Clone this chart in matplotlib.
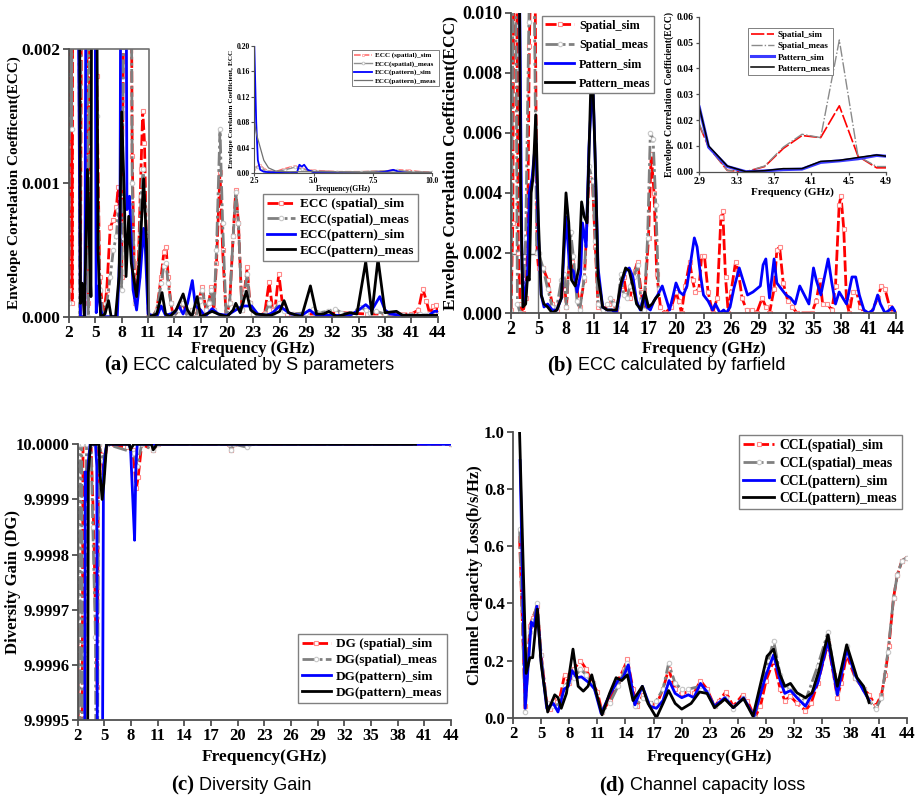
import numpy as np
import matplotlib
matplotlib.use('Agg')
import matplotlib.pyplot as plt
from matplotlib.patches import Rectangle
from matplotlib.ticker import FormatStrFormatter

W, H = 919, 799

# ---------------- data: (frequency in GHz, value) ----------------
# (a) ECC from S parameters
a_spatial_sim = [(2.0, 0.0002), (2.2, 0.005), (2.35, 0.0001), (2.5, 0.005), (3.0, 0.005), (3.3, 0.0),
                 (3.5, 0.004), (3.8, 0.005), (4.2, 0.0001), (4.5, 0.005), (4.8, 0.005), (5.15, 0.0018),
                 (5.5, 0.0003), (5.9, 0.0), (6.3, 0.0002), (6.7, 0.00067), (7.05, 0.00072), (7.4, 0.00082),
                 (7.6, 0.00097), (7.8, 0.0007), (8.0, 0.0003), (8.3, 0.003), (8.6, 0.005), (9.0, 0.004),
                 (9.2, 0.0012), (9.5, 0.0001), (9.9, 0.0004), (10.2, 0.0011), (10.4, 0.00154), (10.6, 0.0013),
                 (10.8, 0.0006), (11.05, 0.0), (11.5, 0.0), (12.0, 0.00005), (12.5, 0.0003), (12.8, 0.00048),
                 (13.05, 0.00052), (13.3, 0.0003), (13.6, 0.0001), (13.9, 0.0), (14.5, 0.00005), (15.0, 0.0001),
                 (15.5, 0.0), (16.0, 0.00005), (16.5, 0.0), (16.9, 0.00015), (17.2, 0.00022), (17.6, 0.00005),
                 (17.9, 0.0001), (18.2, 0.00022), (18.5, 0.00005), (18.8, 0.0004), (19.2, 0.00108), (19.5, 0.0005),
                 (19.9, 0.0), (20.3, 0.0001), (20.7, 0.0006), (21.0, 0.00095), (21.3, 0.0007), (21.7, 0.00005),
                 (22.0, 0.0002), (22.3, 0.00037), (22.6, 0.0001), (23.0, 0.00002), (23.5, 0.0), (24.3, 0.00003),
                 (24.8, 0.00026), (25.2, 0.00005), (25.5, 0.00008), (25.9, 0.00032), (26.3, 0.0001), (26.8, 0.00002),
                 (27.5, 0.00002), (30.0, 0.00002), (33.0, 0.00003), (36.0, 0.00002), (39.0, 0.00002), (41.0, 0.00002),
                 (41.8, 0.00005), (42.3, 0.00021), (42.7, 0.00012), (43.1, 0.00002), (43.5, 0.00008), (43.8, 0.00009),
                 (44.0, 0.00003)]
a_spatial_meas = [(2.0, 0.0001), (2.2, 0.005), (2.3, 0.0014), (2.5, 0.005), (3.0, 0.005), (3.25, 0.0),
                  (3.5, 0.005), (3.8, 0.005), (4.2, 0.0), (4.5, 0.005), (4.8, 0.005), (5.15, 0.0015),
                  (5.5, 0.0002), (5.9, 0.0), (6.3, 0.0001), (6.7, 0.0003), (7.05, 0.0005), (7.4, 0.0006),
                  (7.6, 0.0008), (7.8, 0.0006), (8.0, 0.0002), (8.3, 0.003), (8.6, 0.005), (9.0, 0.004),
                  (9.2, 0.001), (9.5, 0.0001), (9.9, 0.0003), (10.2, 0.0009), (10.45, 0.0011), (10.7, 0.0008),
                  (11.05, 0.0), (11.5, 0.0), (12.0, 0.00005), (12.5, 0.00025), (12.8, 0.00038), (13.05, 0.0004),
                  (13.3, 0.00025), (13.6, 0.0001), (13.9, 0.0), (14.5, 0.00005), (15.0, 0.0001), (15.5, 0.0),
                  (16.0, 0.00005), (16.5, 0.0), (16.9, 0.00012), (17.2, 0.0002), (17.6, 0.00005), (17.9, 0.0001),
                  (18.2, 0.0002), (18.5, 0.00005), (18.8, 0.0005), (19.2, 0.0014), (19.5, 0.0007), (19.9, 0.0),
                  (20.3, 0.0001), (20.7, 0.0006), (21.0, 0.00093), (21.3, 0.0007), (21.7, 0.00005), (22.0, 0.00018),
                  (22.3, 0.00032), (22.6, 0.0001), (23.0, 0.00002), (23.5, 0.0), (24.3, 0.00002), (24.8, 0.0001),
                  (25.2, 0.00003), (25.9, 0.0001), (26.5, 0.00004), (27.5, 0.00002), (29.0, 0.00003), (29.8, 0.00006),
                  (30.5, 0.00003), (31.5, 0.00004), (32.3, 0.00006), (33.0, 0.00003), (34.0, 0.00002), (35.2, 0.00007),
                  (35.8, 0.00005), (36.3, 0.00003), (37.0, 0.00004), (38.0, 0.00002), (40.0, 0.00001), (42.0, 0.00002),
                  (42.5, 0.00001), (43.0, 0.00002), (43.5, 0.00001), (44.0, 0.00001)]
a_pattern_sim = [(2.0, 0.005), (3.0, 0.003), (3.3, 0.0), (3.6, 0.0), (3.8, 0.0), (4.05, 0.005), (4.85, 0.005),
                 (5.1, 0.00003), (5.35, 0.00023), (5.6, 0.00005), (5.9, 0.0), (7.5, 0.0), (7.8, 0.0005), (8.0, 0.005),
                 (8.4, 0.005), (8.6, 0.0008), (8.9, 0.0009), (9.3, 0.0002), (9.7, 0.00005), (10.1, 0.0003),
                 (10.5, 0.00066), (10.7, 0.0005), (11.0, 0.00002), (12.0, 0.0), (12.5, 0.00008), (13.0, 0.00001),
                 (14.0, 0.00003), (14.5, 0.00008), (15.0, 0.00002), (15.5, 0.0001), (16.05, 0.00027), (16.4, 0.00008),
                 (17.0, 0.00005), (17.5, 0.0), (18.3, 0.00006), (19.0, 0.00002), (20.0, 0.00001), (21.0, 0.00005),
                 (21.8, 0.00008), (22.8, 0.00008), (23.5, 0.00002), (24.5, 0.00001), (25.2, 0.00003), (26.0, 0.00008),
                 (26.6, 0.00005), (27.3, 0.00002), (28.5, 0.00001), (29.4, 0.00005), (30.2, 0.00001), (32.0, 0.00001),
                 (34.0, 0.00001), (35.0, 0.00005), (35.8, 0.00009), (36.5, 0.00005), (37.4, 0.00015), (38.0, 0.00005),
                 (38.6, 0.00002), (40.0, 0.00001), (41.5, 0.00001), (43.0, 0.00001), (43.6, 0.00004), (44.0, 0.00004)]
a_pattern_meas = [(2.0, 0.005), (2.9, 0.005), (3.1, 0.005), (3.3, 0.0001), (3.5, 0.00025), (3.75, 0.0),
                  (4.1, 0.0011), (4.3, 0.0006), (4.5, 0.00015), (4.65, 0.005), (5.0, 0.005), (5.3, 0.0005),
                  (5.6, 0.0), (6.1, 0.00002), (6.5, 0.00012), (6.8, 0.0), (7.3, 0.0), (7.7, 0.0003), (8.0, 0.00153),
                  (8.3, 0.0009), (8.5, 0.0003), (8.8, 0.00075), (9.1, 0.0004), (9.7, 0.00015), (10.1, 0.0005),
                  (10.5, 0.00103), (10.8, 0.0006), (11.1, 0.0), (12.0, 0.00002), (12.6, 0.00018), (13.0, 0.00002),
                  (13.5, 0.0), (14.2, 0.00005), (15.0, 0.00017), (15.5, 0.00005), (16.0, 0.0), (16.6, 0.00015),
                  (17.0, 0.0), (18.3, 0.00004), (19.0, 0.00002), (20.0, 0.0), (20.7, 0.00005), (21.0, 0.0001),
                  (21.5, 0.00003), (22.2, 0.00019), (22.7, 0.00005), (23.3, 0.00002), (25.0, 0.00001), (26.0, 0.00004),
                  (26.5, 0.00012), (27.0, 0.00003), (28.5, 0.0), (29.5, 0.00023), (30.2, 0.00002), (31.0, 0.00002),
                  (31.6, 0.00004), (32.5, 0.0), (34.0, 0.00003), (34.8, 0.00002), (35.8, 0.00041), (36.5, 0.00002),
                  (37.2, 0.00043), (38.0, 0.00003), (39.3, 0.00004), (40.0, 0.00001), (44.0, 0.00001)]

# (a) inset, 2.5-10 GHz
ia_spatial_sim = [(2.5, 0.006), (2.6, 0.01), (2.75, 0.012), (2.9, 0.007), (3.1, 0.003), (3.4, 0.002), (3.7, 0.006),
                  (4.0, 0.009), (4.2, 0.011), (4.4, 0.009), (4.7, 0.005), (5.0, 0.004), (5.5, 0.003), (6.0, 0.002),
                  (7.0, 0.002), (8.0, 0.003), (8.5, 0.005), (9.0, 0.004), (9.5, 0.002), (10.0, 0.001)]
ia_spatial_meas = [(2.5, 0.008), (2.65, 0.01), (2.8, 0.008), (3.0, 0.003), (3.4, 0.002), (3.8, 0.005), (4.2, 0.009),
                   (4.5, 0.006), (5.0, 0.003), (6.0, 0.002), (7.0, 0.002), (8.5, 0.004), (9.2, 0.002), (10.0, 0.001)]
ia_pattern_sim = [(2.5, 0.2), (2.58, 0.08), (2.65, 0.02), (2.75, 0.005), (2.9, 0.002), (3.2, 0.001), (3.5, 0.001),
                  (4.0, 0.0), (4.3, 0.001), (4.4, 0.013), (4.5, 0.01), (4.6, 0.013), (4.75, 0.005), (5.0, 0.001),
                  (6.0, 0.0), (7.5, 0.0), (8.0, 0.002), (8.35, 0.005), (8.6, 0.002), (9.0, 0.0), (10.0, 0.0)]
ia_pattern_meas = [(2.5, 0.08), (2.6, 0.06), (2.75, 0.04), (2.9, 0.02), (3.1, 0.008), (3.4, 0.003), (3.8, 0.002),
                   (4.5, 0.002), (5.0, 0.002), (7.0, 0.001), (10.0, 0.001)]

# (b) ECC from far field
b_spatial_sim = [(2.0, 0.0001), (2.2, 0.003), (2.3, 0.012), (2.6, 0.012), (2.8, 0.002), (3.0, 0.0003), (3.3, 0.0),
                 (3.6, 0.0005), (3.8, 0.0021), (4.0, 0.0089), (4.2, 0.012), (4.6, 0.012), (4.85, 0.002), (5.0, 0.0015),
                 (5.5, 0.0015), (6.0, 0.0011), (6.5, 0.0003), (7.0, 0.0001), (7.5, 0.0006), (7.8, 0.0011),
                 (8.05, 0.0002), (8.3, 0.0015), (8.7, 0.0017), (9.0, 0.0012), (9.5, 0.0002), (10.0, 0.0011),
                 (10.5, 0.0045), (10.9, 0.0043), (11.2, 0.0022), (11.5, 0.0002), (12.0, 0.0001), (12.7, 0.0003),
                 (13.0, 0.0004), (13.5, 0.0001), (14.0, 0.0009), (14.3, 0.0012), (14.6, 0.0006), (15.0, 0.0005),
                 (15.5, 0.0014), (15.8, 0.0017), (16.2, 0.0007), (16.5, 0.0001), (17.0, 0.0025), (17.3, 0.0053),
                 (17.6, 0.004), (17.9, 0.0013), (18.3, 0.0002), (18.8, 0.0), (19.5, 0.0002), (20.0, 0.0007),
                 (20.3, 0.0004), (20.6, 0.0), (21.0, 0.0009), (21.5, 0.0017), (21.8, 0.0011), (22.1, 0.0007),
                 (22.5, 0.0008), (22.8, 0.0019), (23.1, 0.0019), (23.5, 0.0007), (24.0, 0.0), (24.5, 0.0005),
                 (24.9, 0.0032), (25.1, 0.0034), (25.4, 0.0012), (25.7, 0.0), (26.0, 0.0007), (26.5, 0.0017),
                 (26.8, 0.0014), (27.2, 0.0005), (27.7, 0.0001), (28.3, 0.0001), (28.8, 0.0), (29.4, 0.0005),
                 (29.8, 0.0002), (30.2, 0.0), (30.7, 0.0008), (31.0, 0.0021), (31.3, 0.0022), (31.7, 0.001),
                 (32.2, 0.0004), (32.7, 0.0002), (33.2, 0.0), (34.8, 0.0), (35.3, 0.0004), (35.7, 0.0011),
                 (36.0, 0.0003), (36.5, 0.0003), (37.0, 0.0001), (37.4, 0.0009), (37.8, 0.0036), (38.0, 0.0039),
                 (38.3, 0.0028), (38.6, 0.0004), (38.9, 0.0), (39.3, 0.0007), (39.7, 0.0007), (40.1, 0.0002),
                 (40.6, 0.0), (41.3, 0.0), (42.0, 0.0005), (42.4, 0.0009), (42.8, 0.0008), (43.3, 0.0002),
                 (43.7, 0.0), (44.0, 0.0)]
b_spatial_meas = [(2.0, 0.0), (2.25, 0.012), (2.5, 0.012), (2.7, 0.0003), (3.0, 0.0), (3.3, 0.0003), (3.6, 0.0025),
                  (3.95, 0.0097), (4.1, 0.012), (4.5, 0.012), (4.8, 0.002), (5.0, 0.002), (5.5, 0.0015), (6.0, 0.0008),
                  (6.5, 0.0002), (7.0, 0.0002), (7.5, 0.0011), (7.8, 0.0013), (8.05, 0.0002), (8.5, 0.0027),
                  (8.8, 0.0019), (9.2, 0.0004), (9.5, 0.0001), (10.0, 0.0012), (10.5, 0.0049), (10.9, 0.0044),
                  (11.2, 0.0024), (11.5, 0.0003), (12.0, 0.0001), (12.5, 0.0003), (12.8, 0.0005), (13.2, 0.0003),
                  (13.6, 0.0002), (14.0, 0.0013), (14.3, 0.0006), (14.6, 0.0005), (15.0, 0.0009), (15.4, 0.0012),
                  (15.8, 0.0016), (16.2, 0.0004), (16.5, 0.0001), (16.9, 0.0025), (17.2, 0.006), (17.5, 0.0058),
                  (17.8, 0.0036), (18.1, 0.0008)]
b_pattern_sim = [(2.9, 0.012), (3.2, 0.0015), (3.5, 0.0003), (3.8, 0.0013), (4.0, 0.004), (4.3, 0.0045),
                 (4.7, 0.0058), (5.0, 0.0025), (5.3, 0.0006), (5.6, 0.0002), (6.0, 0.0003), (6.5, 0.0001),
                 (7.0, 0.0001), (7.5, 0.0005), (8.0, 0.0032), (8.4, 0.0015), (8.8, 0.0014), (9.2, 0.0007),
                 (9.6, 0.0013), (9.8, 0.003), (10.2, 0.0022), (10.5, 0.0055), (10.9, 0.0078), (11.1, 0.006),
                 (11.5, 0.0015), (12.0, 0.0002), (12.5, 0.0001), (13.0, 0.0001), (13.5, 0.0), (14.0, 0.0009),
                 (14.5, 0.0014), (14.9, 0.0015), (15.3, 0.0012), (15.7, 0.0004), (16.1, 0.0001), (16.5, 0.0006),
                 (16.8, 0.0002), (17.2, 0.0001), (17.6, 0.0004), (18.0, 0.0006), (18.5, 0.0009), (19.0, 0.0004),
                 (19.3, 0.0001), (19.7, 0.0006), (20.0, 0.001), (20.4, 0.0007), (20.8, 0.0006), (21.2, 0.0009),
                 (21.6, 0.0017), (22.0, 0.0025), (22.3, 0.0022), (22.7, 0.0012), (23.0, 0.0006), (23.5, 0.0004),
                 (24.0, 0.0001), (24.3, 0.0003), (24.8, 0.0), (25.2, 0.0001), (25.5, 0.0), (25.9, 0.0002),
                 (26.3, 0.0008), (26.9, 0.0015), (27.3, 0.0011), (27.8, 0.0006), (28.4, 0.0007), (28.8, 0.0008),
                 (29.2, 0.0009), (29.5, 0.0016), (29.8, 0.0018), (30.2, 0.0005), (30.7, 0.0018), (31.0, 0.001),
                 (31.5, 0.0008), (32.0, 0.0006), (32.5, 0.0005), (33.0, 0.0003), (33.5, 0.0009), (34.0, 0.0006),
                 (34.5, 0.0003), (35.0, 0.0015), (35.3, 0.0011), (35.8, 0.0006), (36.2, 0.0012), (36.6, 0.0018),
                 (37.0, 0.001), (37.4, 0.0003), (37.8, 0.0007), (38.2, 0.0005), (38.6, 0.0003), (39.2, 0.0012),
                 (39.6, 0.0012), (40.0, 0.0006), (40.5, 0.0001), (41.0, 0.0), (41.5, 0.0001), (42.0, 0.0006),
                 (42.3, 0.0003), (42.8, 0.0), (43.3, 0.0001), (43.6, 0.0002), (44.0, 0.0)]
b_pattern_meas = [(2.9, 0.012), (3.05, 0.004), (3.3, 0.0002), (3.6, 0.0003), (3.8, 0.0012), (4.0, 0.0011),
                  (4.2, 0.004), (4.4, 0.0045), (4.7, 0.0066), (5.0, 0.003), (5.3, 0.0006), (5.6, 0.0003),
                  (6.0, 0.0002), (6.5, 0.0), (7.0, 0.0001), (7.5, 0.0005), (8.0, 0.004), (8.3, 0.003), (8.6, 0.0011),
                  (9.0, 0.0009), (9.4, 0.0015), (9.7, 0.0037), (10.0, 0.0032), (10.3, 0.003), (10.7, 0.0075),
                  (10.9, 0.008), (11.2, 0.005), (11.5, 0.0012), (12.0, 0.0002), (12.5, 0.0001), (13.0, 0.0001),
                  (13.5, 0.0001), (14.0, 0.001), (14.5, 0.0015), (14.9, 0.0014), (15.3, 0.0009), (15.7, 0.0003),
                  (16.2, 0.0001), (16.6, 0.0007), (17.0, 0.0002), (17.4, 0.0003), (17.8, 0.0005), (18.1, 0.0006)]

# (b) inset, 2.9-4.9 GHz
ib_freq = [2.9, 3.0, 3.2, 3.4, 3.6, 3.8, 4.0, 4.2, 4.4, 4.6, 4.8, 4.9]
ib_spatial_sim = [0.018, 0.0095, 0.0005, 0.0, 0.002, 0.009, 0.014, 0.0132, 0.0255, 0.006, 0.0015, 0.0015]
ib_spatial_meas = [0.0185, 0.0095, 0.0005, 0.0, 0.0022, 0.0095, 0.0145, 0.0132, 0.051, 0.006, 0.002, 0.002]
ib_pattern_sim = [0.025, 0.0095, 0.002, 0.0, 0.0003, 0.0008, 0.001, 0.0036, 0.0042, 0.005, 0.0063, 0.006]
ib_pattern_meas = [0.025, 0.01, 0.0022, 0.0, 0.0004, 0.0012, 0.0012, 0.004, 0.0044, 0.0055, 0.0065, 0.006]

# (c) diversity gain
c_spatial_sim = [(2.0, 9.9997), (2.2, 9.999), (2.4, 9.999), (2.6, 10.0), (3.5, 10.0), (3.8, 9.99985),
                 (4.05, 9.99965), (4.2, 9.99956), (4.35, 10.0), (4.7, 9.99998), (4.9, 9.99995), (5.3, 10.0),
                 (7.5, 9.999995), (8.2, 9.99999), (8.6, 9.99992), (8.8, 9.99994), (9.2, 10.0), (10.5, 9.99999),
                 (11.0, 10.0), (19.0, 10.0), (19.3, 9.99999), (19.6, 10.0), (44.0, 10.0)]
c_spatial_meas = [(2.0, 10.0), (2.15, 9.999), (2.3, 10.0), (2.45, 10.0), (2.6, 9.999), (2.8, 9.99962), (3.0, 10.0),
                  (3.5, 10.0), (3.7, 9.99985), (4.0, 9.99965), (4.15, 9.999), (4.35, 10.0), (4.9, 9.99997),
                  (5.3, 10.0), (8.3, 9.999985), (8.7, 9.99996), (9.2, 10.0), (10.5, 9.99999), (11.0, 10.0),
                  (19.0, 10.0), (19.3, 9.99999), (19.6, 10.0), (21.0, 9.999995), (21.3, 10.0), (44.0, 10.0)]
c_pattern_sim = [(2.0, 9.999), (2.75, 9.999), (2.85, 9.99995), (3.0, 9.9999), (3.2, 9.99997), (3.4, 10.0),
                 (4.0, 10.0), (4.15, 9.99996), (4.25, 9.999), (4.7, 9.999), (4.9, 9.99996), (5.25, 10.0),
                 (7.8, 10.0), (7.95, 9.99999), (8.2, 9.9999), (8.4, 9.999826), (8.55, 9.99996), (8.7, 10.0),
                 (44.0, 10.0)]
c_pattern_meas = [(2.0, 9.999), (3.05, 9.999), (3.2, 9.99995), (3.45, 10.0), (4.4, 10.0), (4.5, 9.99995),
                  (4.75, 9.9999), (4.95, 9.99993), (5.25, 10.0), (7.8, 10.0), (7.95, 9.99999), (8.1, 9.999995),
                  (8.3, 10.0), (10.3, 10.0), (10.5, 9.99999), (10.9, 10.0), (40.0, 10.0)]

# (d) channel capacity loss
d_spatial_sim = [(2.7, 0.63), (3.3, 0.04), (3.8, 0.32), (4.1, 0.35), (4.6, 0.39), (5.0, 0.22), (5.6, 0.05),
                 (5.9, 0.03), (6.3, 0.06), (7.0, 0.07), (7.5, 0.15), (8.0, 0.12), (8.5, 0.17), (9.2, 0.2),
                 (9.8, 0.17), (10.5, 0.12), (11.0, 0.09), (11.5, 0.02), (12.3, 0.06), (13.2, 0.13), (13.8, 0.17),
                 (14.2, 0.205), (14.8, 0.1), (15.2, 0.04), (15.9, 0.08), (16.6, 0.05), (17.3, 0.045), (18.0, 0.1),
                 (18.6, 0.17), (19.3, 0.1), (20.0, 0.085), (20.7, 0.09), (21.3, 0.085), (22.0, 0.13), (22.7, 0.1),
                 (23.5, 0.04), (24.0, 0.06), (24.7, 0.09), (25.5, 0.04), (26.5, 0.08), (27.0, 0.06), (27.8, 0.0),
                 (28.4, 0.04), (29.0, 0.13), (29.8, 0.2), (30.5, 0.1), (31.0, 0.06), (31.6, 0.075), (32.3, 0.05),
                 (33.2, 0.025), (33.8, 0.05), (34.5, 0.12), (35.6, 0.26), (36.2, 0.15), (36.6, 0.07), (37.0, 0.12),
                 (37.6, 0.22), (38.5, 0.14), (39.4, 0.1), (40.0, 0.08), (40.7, 0.04), (41.3, 0.08), (41.7, 0.15),
                 (42.1, 0.25), (42.6, 0.42), (43.0, 0.5), (43.5, 0.55), (44.0, 0.56)]
d_spatial_meas = [(2.7, 0.66), (3.3, 0.02), (3.8, 0.3), (4.1, 0.34), (4.6, 0.4), (5.0, 0.22), (5.6, 0.05),
                  (6.3, 0.04), (7.0, 0.05), (7.5, 0.11), (8.0, 0.13), (8.5, 0.14), (9.2, 0.17), (9.8, 0.15),
                  (10.5, 0.12), (11.5, 0.02), (12.3, 0.05), (13.2, 0.11), (14.2, 0.19), (15.0, 0.04), (15.9, 0.07),
                  (16.6, 0.05), (17.3, 0.06), (18.0, 0.1), (18.6, 0.19), (19.3, 0.12), (20.0, 0.1), (20.7, 0.1),
                  (22.0, 0.11), (22.7, 0.09), (23.5, 0.04), (24.7, 0.07), (25.5, 0.03), (26.5, 0.07), (27.8, 0.0),
                  (29.0, 0.17), (29.8, 0.27), (30.5, 0.15), (31.0, 0.1), (31.6, 0.11), (32.3, 0.08), (33.2, 0.06),
                  (34.5, 0.18), (35.6, 0.3), (36.6, 0.09), (37.6, 0.25), (38.5, 0.14), (39.4, 0.1), (40.0, 0.06),
                  (40.7, 0.03), (41.3, 0.07), (42.0, 0.23), (42.6, 0.42), (43.0, 0.5), (43.5, 0.55), (44.0, 0.56)]
d_pattern_sim = [(2.75, 0.9), (3.3, 0.033), (3.95, 0.335), (4.25, 0.32), (4.55, 0.39), (5.0, 0.2), (5.6, 0.033),
                 (6.3, 0.05), (6.8, 0.02), (7.45, 0.1), (7.9, 0.11), (8.3, 0.165), (8.8, 0.14), (9.3, 0.143),
                 (10.2, 0.12), (10.7, 0.1), (11.4, 0.015), (12.3, 0.08), (13.2, 0.13), (13.75, 0.14), (14.3, 0.185),
                 (15.0, 0.045), (15.8, 0.11), (16.6, 0.04), (17.3, 0.033), (18.0, 0.06), (18.65, 0.13), (19.3, 0.085),
                 (20.0, 0.07), (20.7, 0.08), (21.3, 0.07), (22.0, 0.12), (22.7, 0.09), (23.5, 0.04), (24.6, 0.07),
                 (25.5, 0.035), (26.6, 0.07), (27.7, 0.005), (29.0, 0.15), (29.8, 0.22), (30.5, 0.13), (31.0, 0.085),
                 (31.6, 0.095), (32.3, 0.07), (33.2, 0.04), (34.5, 0.12), (35.6, 0.27), (36.6, 0.08), (37.6, 0.24),
                 (38.5, 0.15), (39.3, 0.1), (40.0, 0.06)]
d_pattern_meas = [(2.7, 1.0), (3.4, 0.155), (3.8, 0.21), (4.1, 0.21), (4.6, 0.38), (5.0, 0.19), (5.7, 0.02),
                  (6.45, 0.08), (6.8, 0.07), (7.15, 0.033), (7.7, 0.085), (8.4, 0.24), (8.95, 0.11), (9.5, 0.093),
                  (10.0, 0.11), (10.4, 0.15), (10.9, 0.085), (11.5, 0.01), (12.3, 0.085), (13.0, 0.14), (13.6, 0.13),
                  (14.2, 0.15), (14.8, 0.06), (15.8, 0.11), (16.4, 0.05), (17.3, 0.0), (18.0, 0.05), (18.6, 0.095),
                  (19.3, 0.05), (20.0, 0.03), (21.0, 0.05), (21.9, 0.09), (22.7, 0.085), (23.5, 0.035), (24.6, 0.065),
                  (25.5, 0.035), (26.6, 0.067), (27.6, 0.005), (29.1, 0.215), (29.8, 0.24), (30.5, 0.15), (31.0, 0.11),
                  (31.6, 0.12), (32.3, 0.087), (33.2, 0.07), (33.9, 0.087), (34.6, 0.16), (35.6, 0.29), (36.6, 0.11),
                  (37.6, 0.255), (38.7, 0.14), (39.4, 0.11), (40.0, 0.053)]

a_labels = ['ECC (spatial)_sim', 'ECC(spatial)_meas', 'ECC(pattern)_sim', 'ECC(pattern)_meas']
b_labels = ['Spatial_sim', 'Spatial_meas', 'Pattern_sim', 'Pattern_meas']
c_labels = ['DG (spatial)_sim', 'DG(spatial)_meas', 'DG(pattern)_sim', 'DG(pattern)_meas']
d_labels = ['CCL(spatial)_sim', 'CCL(spatial)_meas', 'CCL(pattern)_sim', 'CCL(pattern)_meas']
freq_ticks = list(range(2, 45, 3))

# zoom boxes drawn in (a) and (b): (x0, x1, y_top)
a_box = (2, 11.15, 0.002)
b_box = (2, 4.9, 0.00196)

# ---------------- style ----------------
plt.rcParams['font.family'] = ['Liberation Serif', 'DejaVu Serif']
plt.rcParams['font.weight'] = 'bold'
plt.rcParams['axes.labelweight'] = 'bold'

RED, GRAY, BLUE, BLACK = '#ff0000', '#808080', '#0000ff', '#000000'
AXC = '#505050'

fig = plt.figure(figsize=(W / 100, H / 100), dpi=100)


def px_axes(l, t, r, b):
    return fig.add_axes([l / W, 1 - b / H, (r - l) / W, (b - t) / H])


def xy(pairs):
    a = np.array(pairs, dtype=float)
    return a[:, 0], a[:, 1]


def style(ax, fs, lw=1.3):
    for s in ['top', 'right']:
        ax.spines[s].set_visible(False)
    for s in ['left', 'bottom']:
        ax.spines[s].set_color(AXC)
        ax.spines[s].set_linewidth(lw)
    ax.tick_params(direction='out', length=4, width=lw, color=AXC, labelsize=fs, pad=2)


def four_lines(ax, data, labels, lw=2.0, ms=3.2):
    x, y = data[0]
    ax.plot(x, y, color=RED, lw=lw, ls=(0, (4, 1.2)), marker='s', ms=ms, mfc='white', mec='#ff8a8a',
            mew=0.8, label=labels[0])
    x, y = data[1]
    ax.plot(x, y, color=GRAY, lw=lw, ls=(0, (5, 1.2, 1, 1.2)), marker='o', ms=ms, mfc='white', mec='#c8c8c8',
            mew=0.8, label=labels[1])
    x, y = data[2]
    ax.plot(x, y, color=BLUE, lw=lw, label=labels[2])
    x, y = data[3]
    ax.plot(x, y, color=BLACK, lw=lw, label=labels[3])


def legend(ax, x, y, fs, hl=2.2, ls=0.3):
    lg = ax.legend(loc='upper left', bbox_to_anchor=(x, y), borderaxespad=0, fontsize=fs, handlelength=hl,
                   fancybox=False, framealpha=1, edgecolor='#808080', borderpad=0.3, labelspacing=ls,
                   handletextpad=0.4)
    lg.get_frame().set_linewidth(1.0)
    return lg


# ---------------- (a) ----------------
axa = px_axes(69, 49, 437.7, 316.7)
four_lines(axa, [xy(a_spatial_sim), xy(a_spatial_meas), xy(a_pattern_sim), xy(a_pattern_meas)], a_labels)
axa.set_xlim(2, 44)
axa.set_ylim(0, 0.002)
axa.set_xticks(freq_ticks)
axa.set_yticks([0, 0.001, 0.002])
axa.yaxis.set_major_formatter(FormatStrFormatter('%.3f'))
style(axa, 12.5)
axa.plot([a_box[0], a_box[1], a_box[1]], [a_box[2], a_box[2], 0], color='#707070', lw=1.2, clip_on=False)
axa.set_ylabel('Envelope Correlation Coefficent(ECC)', fontsize=11)
axa.yaxis.set_label_coords(-0.13, 0.5)
axa.set_xlabel('Frequency (GHz)', fontsize=12)
axa.xaxis.set_label_coords(0.5, -0.091)
legend(axa, 0.526, 0.458, 9.5, hl=2.1, ls=0.25)

# inset of (a)
ia = px_axes(254.3, 45.7, 432.3, 173)
x, y = xy(ia_spatial_sim)
ia.plot(x, y, color='#ff7070', lw=1.2, ls=(0, (4, 1.2)), marker='s', ms=2, mfc='white', mec='#ffaaaa',
        mew=0.6, label=a_labels[0])
x, y = xy(ia_spatial_meas)
ia.plot(x, y, color='#909090', lw=1.0, marker='o', ms=2, mfc='white', mec='#c0c0c0', mew=0.6, label=a_labels[1])
x, y = xy(ia_pattern_sim)
ia.plot(x, y, color=BLUE, lw=1.3, label=a_labels[2])
x, y = xy(ia_pattern_meas)
ia.plot(x, y, color='#707070', lw=0.9, label=a_labels[3])
ia.set_xlim(2.5, 10)
ia.set_ylim(0, 0.2)
ia.set_xticks([2.5, 5.0, 7.5, 10.0])
ia.set_yticks([0, 0.04, 0.08, 0.12, 0.16, 0.20])
ia.xaxis.set_major_formatter(FormatStrFormatter('%.1f'))
ia.yaxis.set_major_formatter(FormatStrFormatter('%.2f'))
style(ia, 5.5, lw=0.8)
ia.tick_params(length=2, pad=1)
ia.set_ylabel('Envelope Corelation Coefficient, ECC', fontsize=5.2, labelpad=2)
ia.set_xlabel('Frequency(GHz)', fontsize=5.5, labelpad=0)
legend(ia, 0.547, 0.966, 5.1, hl=2.6).get_frame().set_linewidth(0.7)

# ---------------- (b) ----------------
axb = px_axes(511, 12.7, 896, 313)
axb.add_patch(Rectangle((b_box[0], 0), b_box[1] - b_box[0], b_box[2], fill=False, edgecolor='#707070', lw=1.0))
four_lines(axb, [xy(b_spatial_sim), xy(b_spatial_meas), xy(b_pattern_sim), xy(b_pattern_meas)], b_labels)
axb.set_xlim(2, 44)
axb.set_ylim(0, 0.010)
axb.set_xticks(freq_ticks)
axb.set_yticks(np.arange(0, 0.0101, 0.002))
axb.yaxis.set_major_formatter(FormatStrFormatter('%.3f'))
style(axb, 13)
axb.set_ylabel('Envelope Correlation Coefficient(ECC)', fontsize=12.5)
axb.yaxis.set_label_coords(-0.135, 0.5)
axb.set_xlabel('Frequency (GHz)', fontsize=12)
axb.xaxis.set_label_coords(0.5, -0.093)
legend(axb, 0.08, 0.989, 8.7, hl=2.4, ls=0.6)

# inset of (b)
ib = px_axes(699.3, 16.7, 886, 171.7)
ib.plot(ib_freq, ib_spatial_sim, color=RED, lw=1.2, ls=(0, (8, 1.5)), label=b_labels[0])
ib.plot(ib_freq, ib_spatial_meas, color='#8a8a8a', lw=1.0, ls=(0, (8, 1.5, 1, 1.5)), label=b_labels[1])
ib.plot(ib_freq, ib_pattern_sim, color='#3a3aff', lw=2.2, label=b_labels[2])
ib.plot(ib_freq, ib_pattern_meas, color=BLACK, lw=1.1, label=b_labels[3])
ib.set_xlim(2.9, 4.9)
ib.set_ylim(0, 0.06)
ib.set_xticks([2.9, 3.3, 3.7, 4.1, 4.5, 4.9])
ib.set_yticks(np.arange(0, 0.061, 0.01))
ib.xaxis.set_major_formatter(FormatStrFormatter('%.1f'))
ib.yaxis.set_major_formatter(FormatStrFormatter('%.2f'))
style(ib, 7, lw=0.9)
ib.tick_params(length=2.5, pad=1.5)
ib.set_ylabel('Envelope Correlation Coefficient(ECC)', fontsize=7, labelpad=2)
ib.set_xlabel('Frequency (GHz)', fontsize=8, labelpad=1)
legend(ib, 0.26, 0.927, 6.5, hl=2.6).get_frame().set_linewidth(0.7)

# ---------------- (c) ----------------
axc = px_axes(77.7, 444.3, 451, 720)
four_lines(axc, [xy(c_spatial_sim), xy(c_spatial_meas), xy(c_pattern_sim), xy(c_pattern_meas)], c_labels)
axc.set_xlim(2, 44)
axc.set_ylim(9.9995, 10.0)
axc.set_xticks(freq_ticks)
axc.set_yticks([9.9995, 9.9996, 9.9997, 9.9998, 9.9999, 10.0])
axc.yaxis.set_major_formatter(FormatStrFormatter('%.4f'))
style(axc, 12)
axc.set_ylabel('Diversity Gain (DG)', fontsize=12)
axc.yaxis.set_label_coords(-0.152, 0.5)
axc.set_xlabel('Frequency(GHz)', fontsize=12.5)
axc.xaxis.set_label_coords(0.5, -0.105)
legend(axc, 0.59, 0.312, 9.5, hl=2.2, ls=0.3)

# ---------------- (d) ----------------
axd = px_axes(513, 432, 906.7, 717.7)
four_lines(axd, [xy(d_spatial_sim), xy(d_spatial_meas), xy(d_pattern_sim), xy(d_pattern_meas)], d_labels)
axd.set_xlim(2, 44)
axd.set_ylim(0, 1.0)
axd.set_xticks(freq_ticks)
axd.set_yticks(np.arange(0, 1.01, 0.2))
axd.yaxis.set_major_formatter(FormatStrFormatter('%.1f'))
style(axd, 12)
axd.set_ylabel('Channel Capacity Loss(b/s/Hz)', fontsize=12)
axd.yaxis.set_label_coords(-0.076, 0.5)
axd.set_xlabel('Frequency(GHz)', fontsize=12.5)
axd.xaxis.set_label_coords(0.5, -0.11)
legend(axd, 0.574, 0.99, 9.8, hl=2.3, ls=0.3)

# ---------------- captions ----------------
captions = [(128, 365, '(a)', 'ECC calculated by S parameters'),
            (573, 365, '(b)', 'ECC calculated by farfield'),
            (194, 785, '(c)', 'Diversity Gain'),
            (625, 785, '(d)', 'Channel capacity loss')]
for cx, cy, tag, txt in captions:
    fig.text(cx / W, 1 - cy / H, tag, ha='right', va='center', fontsize=15, fontweight='bold',
             family='Liberation Serif')
    fig.text((cx + 5) / W, 1 - cy / H, txt, ha='left', va='center', fontsize=13, fontweight='normal',
             family='Liberation Sans')

fig.savefig('out.png', dpi=100)
